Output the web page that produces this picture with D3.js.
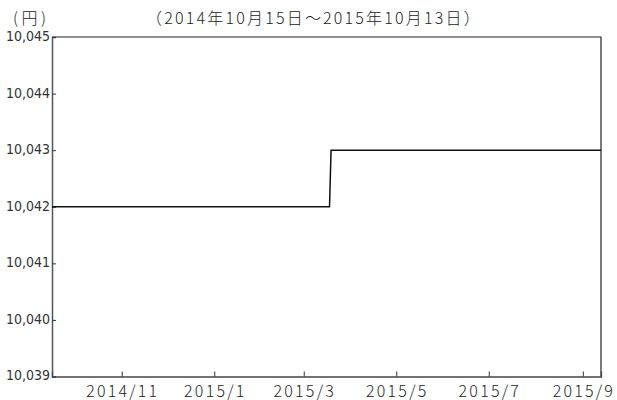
<!DOCTYPE html>
<html>
<head>
<meta charset="utf-8">
<script src="https://cdn.jsdelivr.net/npm/d3@7"></script>
<style>
body { margin:0; background:#fff; }
svg { display:block; }
.ylab { font-family:"DejaVu Sans Condensed","DejaVu Sans",sans-serif; font-size:14px; fill:#333; }
.xlab { font-family:"Noto Sans CJK JP",sans-serif; font-weight:300; font-size:16px; fill:#222; letter-spacing:2.2px; }
.ttl { font-family:"Noto Sans CJK JP",sans-serif; font-weight:300; font-size:16px; fill:#222; letter-spacing:2.2px; }
.unit { letter-spacing:3.5px; }
</style>
</head>
<body>
<svg id="chart"></svg>
<script>
// price series (step change in mid March)
var dates = ["2014-09-16","2015-03-18","2015-03-19","2015-09-13"];
var prices = [10042,10042,10043,10043];

var yTicks = [10039,10040,10041,10042,10043,10044,10045];
var xTickDates = ["2014-11-01","2015-01-01","2015-03-01","2015-05-01","2015-07-01","2015-09-01"];
var xTickLabels = ["2014/11","2015/1","2015/3","2015/5","2015/7","2015/9"];

var unitLabel = "(円)";
var periodLabel = "（2014年10月15日～2015年10月13日）";

var parse = d3.timeParse("%Y-%m-%d");

var screen = {width:617, height:400};
var margins = {top:37, bottom:23.5, left:52, right:16};
var graph = {
    width: screen.width-margins.left-margins.right,
    height: screen.height-margins.top-margins.bottom
};

var svg = d3.select("#chart")
    .attr("width",screen.width)
    .attr("height",screen.height);

var xScale = d3.scaleTime()
    .domain([parse(dates[0]), parse(dates[dates.length-1])])
    .range([0,graph.width]);

var yScale = d3.scaleLinear()
    .domain([yTicks[0], yTicks[yTicks.length-1]])
    .range([graph.height,0]);

var g = svg.append("g")
    .attr("transform","translate("+margins.left+","+margins.top+")");

// frame top / right
g.append("path")
    .attr("d","M0,0H"+graph.width+"V"+graph.height)
    .attr("fill","none")
    .attr("stroke","#222")
    .attr("stroke-width",1.2);

// y axis, ticks pointing inward
var yAxis = d3.axisRight(yScale)
    .tickValues(yTicks)
    .tickSize(4)
    .tickFormat("");
var ya = g.append("g").call(yAxis);
ya.select(".domain").attr("stroke","#555").attr("stroke-width",1.5);
ya.selectAll(".tick line").attr("stroke","#333");

g.selectAll("text.ylab")
    .data(yTicks)
    .enter()
    .append("text")
    .classed("ylab",true)
    .attr("x",-2)
    .attr("y",function(d){ return yScale(d); })
    .attr("dy","0.28em")
    .attr("text-anchor","end")
    .text(function(d){ return d3.format(",")(d); });

// x axis, ticks pointing inward
var xAxis = d3.axisTop(xScale)
    .tickValues(xTickDates.map(parse))
    .tickSize(5)
    .tickFormat("");
var xa = g.append("g")
    .attr("transform","translate(0,"+graph.height+")")
    .call(xAxis);
xa.select(".domain").attr("stroke","#444").attr("stroke-width",1.3);
xa.selectAll(".tick line").attr("stroke","#333");

g.selectAll("text.xlab")
    .data(xTickDates)
    .enter()
    .append("text")
    .classed("xlab",true)
    .attr("x",function(d){ return xScale(parse(d))+1; })
    .attr("y",graph.height+20)
    .attr("text-anchor","middle")
    .text(function(d,i){ return xTickLabels[i]; });

// price line
var line = d3.line()
    .x(function(d){ return xScale(parse(d)); })
    .y(function(d,i){ return yScale(prices[i]); });

g.append("path")
    .datum(dates)
    .attr("d",line)
    .attr("fill","none")
    .attr("stroke","#111")
    .attr("stroke-width",1.5);

svg.append("text")
    .attr("class","ttl unit")
    .attr("x",13)
    .attr("y",24)
    .text(unitLabel);

svg.append("text")
    .classed("ttl",true)
    .attr("x",146)
    .attr("y",24)
    .text(periodLabel);
</script>
</body>
</html>
